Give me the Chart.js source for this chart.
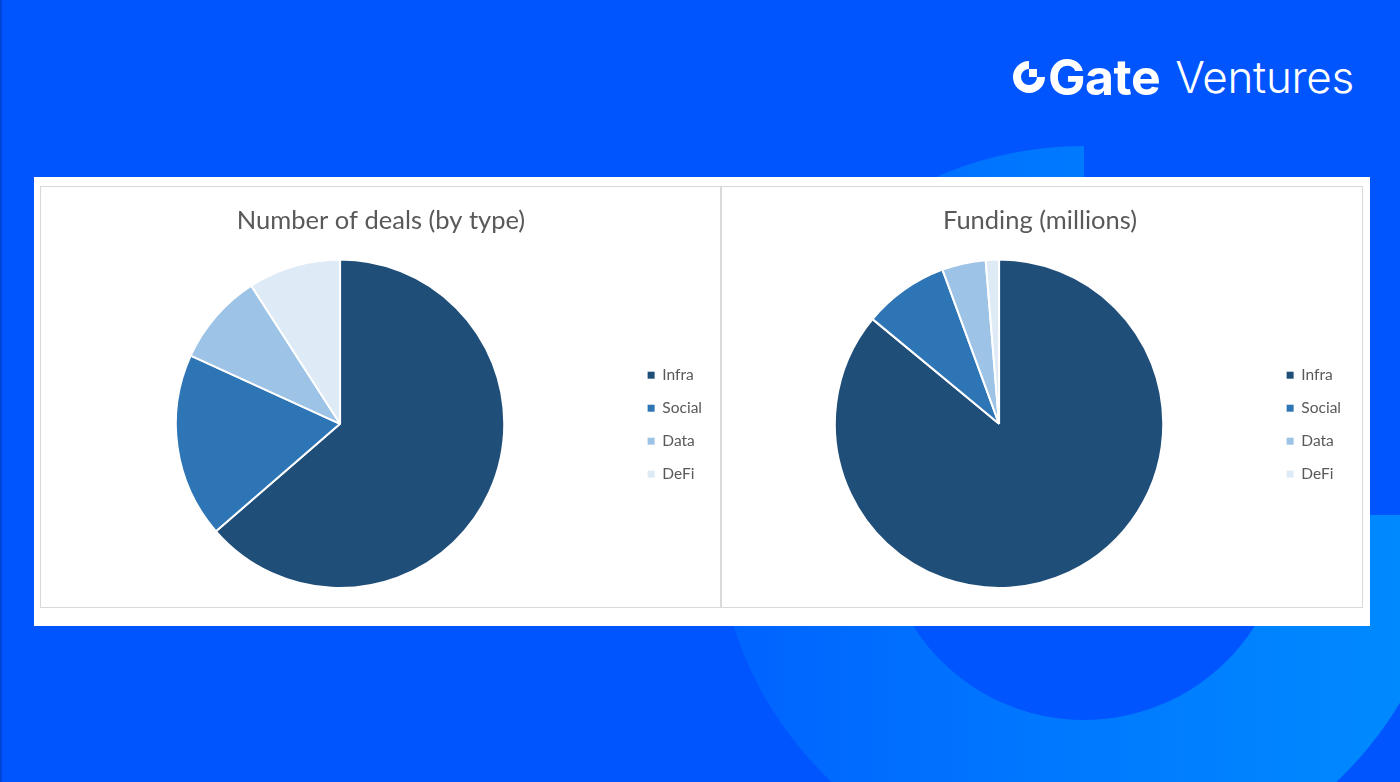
<!DOCTYPE html>
<html>
<head>
<meta charset="utf-8">
<script src="https://cdn.jsdelivr.net/npm/chart.js@4.4.1/dist/chart.umd.min.js"></script>
<style>
  html, body { margin: 0; padding: 0; }
  body { width: 1400px; height: 782px; position: relative; overflow: hidden; background: #0055ff; font-family: Lato, sans-serif; }
  .edge { position: absolute; left: 0; top: 0; width: 2px; height: 782px; background: #0046d6; }
  .ring { position: absolute; left: 716px; top: 146px; width: 736px; height: 736px; border-radius: 50%;
          background: linear-gradient(90deg, #0062ff 0%, #0078ff 45%, #008cff 100%); }
  .hole { position: absolute; left: 882px; top: 316px; width: 404px; height: 404px; border-radius: 50%; background: #0055ff; }
  .cut { position: absolute; left: 1084px; top: 130px; width: 330px; height: 385px; background: #0055ff; }
  .logo { position: absolute; left: 1012px; top: 52px; height: 50px; display: flex; align-items: center; color: #fff; }
  .logo svg { width: 34px; height: 34px; margin-right: 2px; }
  .logo .gate { font-family: Inter, sans-serif; font-weight: 700; font-size: 50px; letter-spacing: -0.5px; }
  .logo .ventures { font-family: Inter, sans-serif; font-weight: 300; font-size: 44px; margin-left: 15px; letter-spacing: -0.3px; }
  .panel { position: absolute; left: 34px; top: 177px; width: 1336px; height: 449px; background: #fff; }
  .box { position: absolute; top: 186px; height: 422px; border: 1.5px solid #d9d9d9; box-sizing: border-box; }
  canvas { position: absolute; }
</style>
</head>
<body>
<div class="edge"></div>
<div class="ring"></div>
<div class="hole"></div>
<div class="cut"></div>
<div class="logo">
  <svg viewBox="0 0 34 34">
    <path d="M17 1 A16 16 0 1 0 33 17 L25 17 A8 8 0 1 1 17 9 Z" fill="#fff"/>
    <rect x="17" y="9" width="8" height="8" fill="#fff"/>
  </svg>
  <span class="gate">Gate</span><span class="ventures">Ventures</span>
</div>
<div class="panel"></div>
<div class="box" style="left:40px;width:682px"></div>
<div class="box" style="left:720px;width:643px"></div>
<canvas id="chart-deals" width="662" height="403" style="left:50px;top:186px"></canvas>
<canvas id="chart-funding" width="622" height="403" style="left:729px;top:186px"></canvas>
<script>
const dealTypes = ['Infra', 'Social', 'Data', 'DeFi']
const dealCounts = [7, 2, 1, 1]
const fundingMillions = [86, 8.4, 4.3, 1.3]
const sliceColors = ['#1f4e79', '#2e75b6', '#9dc3e6', '#deebf7']

function createChart (id, title, labels, values) {
  let ctx = document.getElementById(id).getContext('2d')
  return new Chart(ctx, {
    type: 'pie',
    data: {
      labels: labels,
      datasets: [{
        data: values,
        backgroundColor: sliceColors,
        borderColor: '#ffffff',
        borderWidth: 2
      }]
    },
    options: {
      responsive: false,
      animation: false,
      events: [],
      plugins: {
        title: {
          display: true,
          text: title,
          color: '#595959',
          font: { family: 'Lato', size: 25.5, weight: 'normal' },
          padding: { top: 19, bottom: 23 }
        },
        legend: {
          position: 'right',
          // empty legend title only pushes the items down to the pie's centre
          title: { display: true, text: '', font: { size: 2 }, padding: { top: 72, bottom: 0 } },
          labels: {
            color: '#595959',
            font: { family: 'Lato', size: 15.5 },
            boxWidth: 7,
            boxHeight: 7,
            padding: 17.5,
            generateLabels: function (chart) {
              let items = Chart.overrides.pie.plugins.legend.labels.generateLabels(chart)
              items.forEach(function (item) {
                item.lineWidth = 0
                item.strokeStyle = item.fillStyle
              })
              return items
            }
          }
        },
        tooltip: { enabled: false }
      }
    }
  })
}

createChart('chart-deals', 'Number of deals (by type)', dealTypes, dealCounts)
createChart('chart-funding', 'Funding (millions)', dealTypes, fundingMillions)
</script>
</body>
</html>
